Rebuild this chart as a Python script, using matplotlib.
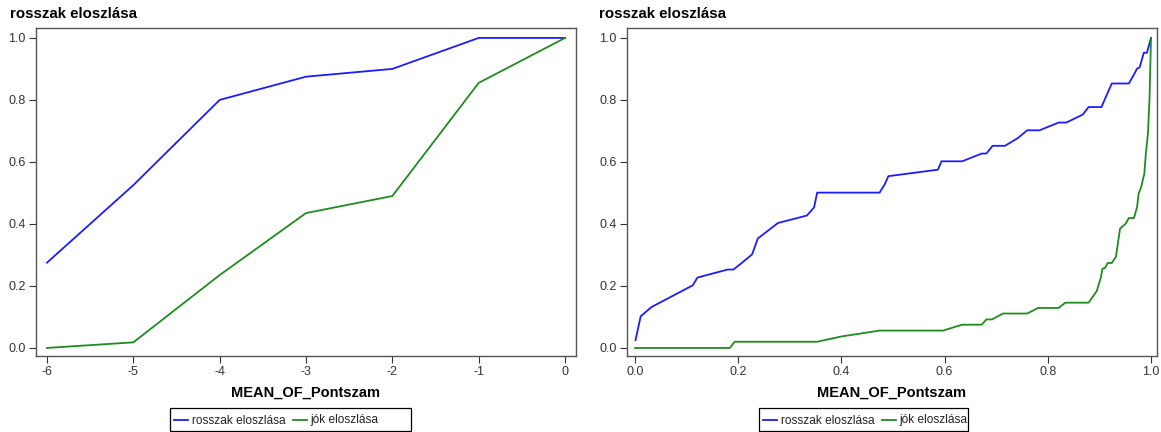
import matplotlib
matplotlib.use("Agg")
import matplotlib.pyplot as plt
from matplotlib.patches import Rectangle
from matplotlib.lines import Line2D

plt.rcParams['font.family'] = ['Liberation Sans', 'DejaVu Sans']

# left panel
left_x = [-6, -5, -4, -3, -2, -1, 0]
left_rossz = [0.275, 0.525, 0.80, 0.875, 0.90, 1.0, 1.0]
left_jo = [0.0, 0.018, 0.235, 0.435, 0.49, 0.855, 1.0]

# right panel
right_rossz_x = [0.001, 0.011, 0.032, 0.112, 0.121, 0.18, 0.191, 0.209, 0.227, 0.238,
                 0.277, 0.333, 0.347, 0.353, 0.474, 0.484, 0.491, 0.587, 0.594, 0.634,
                 0.672, 0.681, 0.693, 0.717, 0.742, 0.760, 0.784, 0.821, 0.836, 0.868,
                 0.879, 0.904, 0.911, 0.924, 0.957, 0.965, 0.973, 0.978, 0.986, 0.992, 1.0]
right_rossz_y = [0.025, 0.102, 0.132, 0.202, 0.227, 0.253, 0.253, 0.277, 0.302, 0.353,
                 0.403, 0.427, 0.453, 0.501, 0.501, 0.528, 0.554, 0.575, 0.602, 0.602,
                 0.627, 0.627, 0.652, 0.652, 0.677, 0.702, 0.702, 0.727, 0.727, 0.753,
                 0.777, 0.777, 0.804, 0.853, 0.853, 0.876, 0.901, 0.905, 0.952, 0.952, 1.0]
right_jo_x = [0.0, 0.184, 0.193, 0.353, 0.40, 0.474, 0.597, 0.634, 0.672, 0.681,
              0.692, 0.713, 0.760, 0.781, 0.821, 0.834, 0.879, 0.888, 0.895, 0.903,
              0.906, 0.911, 0.916, 0.924, 0.932, 0.94, 0.951, 0.957, 0.967, 0.973,
              0.976, 0.981, 0.987, 0.99, 0.994, 0.997, 1.0]
right_jo_y = [0.0, 0.0, 0.02, 0.02, 0.037, 0.056, 0.056, 0.075, 0.075, 0.092,
              0.092, 0.111, 0.111, 0.129, 0.129, 0.146, 0.146, 0.167, 0.184, 0.229,
              0.256, 0.258, 0.274, 0.274, 0.294, 0.385, 0.401, 0.419, 0.419, 0.455,
              0.498, 0.519, 0.562, 0.627, 0.691, 0.799, 1.0]

title = "rosszak eloszlása"
xlabel = "MEAN_OF_Pontszam"
labels = ["rosszak eloszlása", "jók eloszlása"]
blue = "#1c1cff"
green = "#1e8c1e"

W, H = 1161, 432
fig = plt.figure(figsize=(W / 100, H / 100), dpi=100)
renderer = fig.canvas.get_renderer()

def style(ax, xlim, xticks, xticklabels):
    ax.set_xlim(*xlim)
    ax.set_ylim(-0.026, 1.032)
    ax.set_xticks(xticks)
    ax.set_xticklabels(xticklabels)
    ax.set_yticks([0.0, 0.2, 0.4, 0.6, 0.8, 1.0])
    ax.set_yticklabels(["0.0", "0.2", "0.4", "0.6", "0.8", "1.0"])
    ax.tick_params(direction='out', length=5, width=0.8, color='#333333',
                   labelsize=9, labelcolor='#333333', pad=2.5)
    for s in ax.spines.values():
        s.set_color('#555555')
        s.set_linewidth(1.0)
    ax.set_xlabel(xlabel, fontsize=10.5, fontweight='bold', labelpad=5)

def add_legend(lines, x0, x1):
    # SAS style legend box, drawn by hand so both labels share one baseline
    fig.patches.append(Rectangle((x0 / W, 1 - 431 / H), (x1 - x0) / W, 23 / H,
                                 transform=fig.transFigure, fill=False,
                                 edgecolor='black', lw=0.9))
    x = x0 + 4
    ymid = 1 - 419.5 / H
    ybase = 1 - 423.5 / H
    for ln, lab in zip(lines, labels):
        fig.add_artist(Line2D([x / W, (x + 14) / W], [ymid, ymid],
                              transform=fig.transFigure, color=ln.get_color(), lw=1.3))
        t = fig.text((x + 18) / W, ybase, lab, fontsize=8.6, color='#222222',
                     va='baseline', ha='left')
        x = x + 18 + t.get_window_extent(renderer).width + 7

# left
ax1 = fig.add_axes([36 / W, 1 - 356 / H, 540 / W, 328 / H])
l1, = ax1.plot(left_x, left_rossz, color=blue, lw=1.3)
l2, = ax1.plot(left_x, left_jo, color=green, lw=1.3)
style(ax1, (-6.127, 0.127), left_x, [str(v) for v in left_x])
fig.text(10 / W, 1 - 14 / H, title, fontsize=10.8, fontweight='bold', va='center')
add_legend([l1, l2], 170, 411)

# right
ax2 = fig.add_axes([627 / W, 1 - 356 / H, 530 / W, 328 / H])
r1, = ax2.plot(right_rossz_x, right_rossz_y, color=blue, lw=1.3)
r2, = ax2.plot(right_jo_x, right_jo_y, color=green, lw=1.3)
style(ax2, (-0.0155, 1.0116), [0.0, 0.2, 0.4, 0.6, 0.8, 1.0],
      ["0.0", "0.2", "0.4", "0.6", "0.8", "1.0"])
fig.text(599 / W, 1 - 14 / H, title, fontsize=10.8, fontweight='bold', va='center')
add_legend([r1, r2], 759, 968)

fig.savefig("out.png", dpi=100)
